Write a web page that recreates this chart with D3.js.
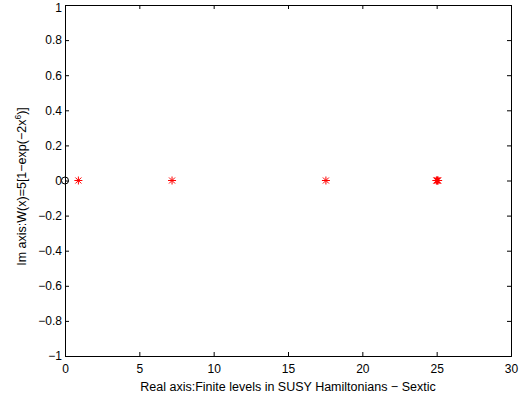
<!DOCTYPE html>
<html>
<head>
<meta charset="utf-8">
<script src="https://cdn.jsdelivr.net/npm/d3@7"></script>
<style>
  body { margin: 0; background: #fff; }
  text { font-family: "Liberation Sans", Arial, sans-serif; }
</style>
</head>
<body>
<svg id="chart" width="519" height="402"></svg>
<script>
// Energy levels of the sextic SUSY Hamiltonian on the complex plane
const levelRe = [0.9, 7.2, 17.55, 24.98, 25.02, 25.06, 25.1];
const levelIm = [0, 0, 0, 0, 0, 0, 0];
const originRe = [0];
const originIm = [0];
const xTicks = [0, 5, 10, 15, 20, 25, 30];
const yTicks = [-1, -0.8, -0.6, -0.4, -0.2, 0, 0.2, 0.4, 0.6, 0.8, 1];

const margin = { left: 65, top: 5, right: 8, bottom: 46 };
const W = 519, H = 402;
const svg = d3.select("#chart");

const x = d3.scaleLinear().domain([0, 30]).range([margin.left, W - margin.right]);
const y = d3.scaleLinear().domain([-1, 1]).range([H - margin.bottom, margin.top]);

const fmt = d => (d < 0 ? "\u2212" + Math.abs(d) : String(d));

// axes with inward ticks, mirrored on top and right
const tick = 4;
const gx = svg.append("g").attr("transform", `translate(0,${y(-1)})`)
  .call(d3.axisBottom(x).tickValues(xTicks).tickSize(-tick).tickPadding(8).tickFormat(fmt));
const gxt = svg.append("g").attr("transform", `translate(0,${y(1)})`)
  .call(d3.axisTop(x).tickValues(xTicks).tickSize(-tick).tickFormat(""));
const gy = svg.append("g").attr("transform", `translate(${x(0)},0)`)
  .call(d3.axisLeft(y).tickValues(yTicks).tickSize(-tick).tickPadding(3).tickFormat(fmt));
const gyr = svg.append("g").attr("transform", `translate(${x(30)},0)`)
  .call(d3.axisRight(y).tickValues(yTicks).tickSize(-tick).tickFormat(""));

[gx, gxt, gy, gyr].forEach(g => {
  g.select(".domain").attr("stroke", "#000").attr("stroke-width", 1);
  g.selectAll(".tick line").attr("stroke", "#000");
  g.selectAll(".tick text").attr("fill", "#000").style("font-size", "12px")
    .style("font-family", "'Liberation Sans', Arial, sans-serif");
});
// keep the topmost y label inside the canvas
gy.selectAll(".tick text").filter(d => d === 1).attr("dy", "0.5em");

// origin marker
svg.append("g").selectAll("circle").data(originRe).join("circle")
  .attr("cx", (d) => x(d)).attr("cy", (d, i) => y(originIm[i]))
  .attr("r", 3.5).attr("fill", "none").attr("stroke", "#000").attr("stroke-width", 1);

// asterisk markers for the levels
const s = 4, dgl = 3;
const starPath = `M${-s},0L${s},0M0,${-s}L0,${s}M${-dgl},${-dgl}L${dgl},${dgl}M${-dgl},${dgl}L${dgl},${-dgl}`;
svg.append("g").selectAll("path").data(levelRe).join("path")
  .attr("transform", (d, i) => `translate(${x(d)},${y(levelIm[i])})`)
  .attr("d", starPath).attr("fill", "none").attr("stroke", "#ff0000").attr("stroke-width", 1);

// axis titles
svg.append("text").attr("x", (x(0) + x(30)) / 2).attr("y", 391)
  .attr("text-anchor", "middle").style("font-size", "12.5px")
  .text("Real axis:Finite levels in SUSY Hamiltonians \u2212 Sextic");

const yl = svg.append("text")
  .attr("transform", `translate(26,${(y(-1) + y(1)) / 2 + 6}) rotate(-90)`)
  .attr("text-anchor", "middle").style("font-size", "12.5px");
yl.append("tspan").text("Im axis:W(x)=5[1\u2212exp(\u22122x");
yl.append("tspan").attr("dy", -5).style("font-size", "8.5px").text("6");
yl.append("tspan").attr("dy", 5).text(")]");
</script>
</body>
</html>
